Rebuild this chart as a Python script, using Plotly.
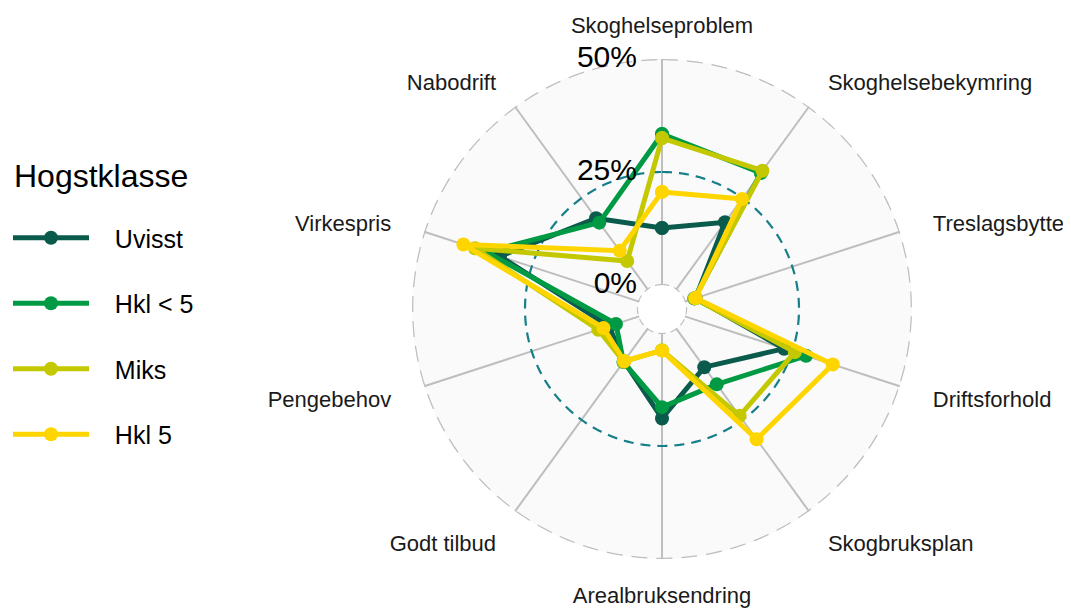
import numpy as np
import plotly.graph_objects as go

# categories, clockwise from the top
categories = ["Skoghelseproblem", "Skoghelsebekymring", "Treslagsbytte", "Driftsforhold",
              "Skogbruksplan", "Arealbruksendring", "Godt tilbud", "Pengebehov",
              "Virkespris", "Nabodrift"]
angles = [i * 36 for i in range(len(categories))]

# share in percent
uvisst = [12.6, 18.4, 2.5, 23.1, 10.6, 18.9, 9.0, 7.0, 32.4, 19.5]
hkl_under5 = [33.4, 31.9, 2.2, 28.2, 15.3, 16.4, 9.2, 5.4, 35.5, 18.3]
miks = [32.5, 32.5, 2.3, 25.6, 23.9, 3.8, 9.1, 9.5, 38.2, 7.8]
hkl5 = [20.6, 24.8, 2.5, 34.4, 30.3, 3.9, 8.9, 8.3, 40.9, 10.6]

series_names = ["Uvisst", "Hkl < 5", "Miks", "Hkl 5"]
series_values = [uvisst, hkl_under5, miks, hkl5]
series_colors = ["#0B5B4C", "#009A44", "#C3C800", "#FFD500"]

grid_levels = [0, 25, 50]
grid_labels = ["0%", "25%", "50%"]
grid_colors = ["#BEBEBE", "#167F8A", "#BEBEBE"]
grid_dash = ["7px,5px", "10px,7px", "16px,9px"]
grid_width = [2.2, 2.2, 2.6]

# the page body adds an 8px margin, so positions are given in figure pixels
W, H = 1071, 610
cx, cy, R = 654, 301, 250

nb = "\u00a0"
# push the side labels a little further away from the circle
tick_text = []
for a, c in zip(angles, categories):
    n = 0 if a in (0, 180) else (1 if a in (36, 144, 216, 324) else 2)
    tick_text.append(nb * n + c if a < 180 else c + nb * n)

fig = go.Figure()

# grid circles (dashed)
circle_theta = np.linspace(0, 360, 721)
for lvl, col, dsh, wd in zip(grid_levels, grid_colors, grid_dash, grid_width):
    fig.add_trace(go.Scatterpolar(
        r=[lvl] * len(circle_theta), theta=circle_theta, mode="lines",
        line=dict(color=col, width=wd, dash=dsh),
        hoverinfo="skip", showlegend=False, cliponaxis=False))

pad = nb * 3
for name, vals, col in zip(series_names, series_values, series_colors):
    fig.add_trace(go.Scatterpolar(
        r=vals + vals[:1], theta=angles + angles[:1], name=pad + name,
        mode="lines+markers", legendgroup=name,
        line=dict(color=col, width=5), marker=dict(color=col, size=14),
        cliponaxis=False))

# percentage labels along the top spoke
fig.add_trace(go.Scatterpolar(
    r=grid_levels, theta=[0] * len(grid_levels), mode="text",
    text=[t + pad for t in grid_labels], textposition="middle left",
    textfont=dict(size=30, color="#000000"),
    hoverinfo="skip", showlegend=False, cliponaxis=False))

fig.update_layout(
    width=W, height=H,
    paper_bgcolor="white",
    margin=dict(l=0, r=0, t=0, b=0),
    font=dict(family="Liberation Sans, Arial, sans-serif", color="#1a1a1a"),
    polar=dict(
        domain=dict(x=[(cx - R) / W, (cx + R) / W],
                    y=[(H - cy - R) / H, (H - cy + R) / H]),
        bgcolor="#FAFAFA",
        hole=0.096,
        radialaxis=dict(range=[0, 50], showticklabels=False, showgrid=False,
                        showline=False, ticks=""),
        angularaxis=dict(
            type="linear", thetaunit="degrees", rotation=90, direction="clockwise",
            tickmode="array", tickvals=angles, ticktext=tick_text,
            tickfont=dict(size=22, color="#1a1a1a"),
            ticks="outside", ticklen=17, tickcolor="rgba(0,0,0,0)",
            showline=False, showgrid=True, gridcolor="#BEBEBE", gridwidth=2),
    ),
    legend=dict(
        x=0.0, y=1 - 207 / H, xanchor="left", yanchor="top",
        font=dict(size=25, color="#000000"),
        tracegroupgap=30, itemwidth=76,
    ),
    annotations=[dict(
        text="Hogstklasse", xref="paper", yref="paper", x=4 / W, y=1 - 168 / H,
        xanchor="left", yanchor="middle", showarrow=False,
        font=dict(size=32, color="#000000"))],
)

fig.write_html("out.html")
